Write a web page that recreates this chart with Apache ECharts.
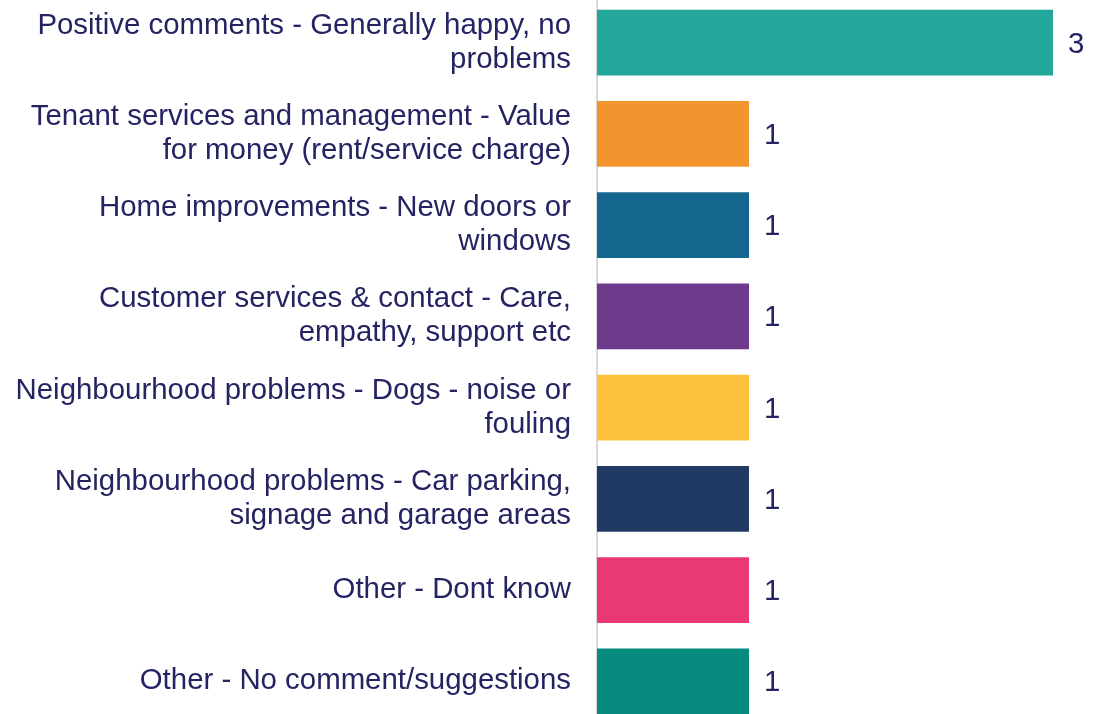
<!DOCTYPE html>
<html>
<head>
<meta charset="utf-8">
<script src="https://cdn.jsdelivr.net/npm/echarts@6/dist/echarts.min.js"></script>
<style>
  html, body { margin: 0; padding: 0; background: #fff; }
  #chart { width: 1102px; height: 714px; }
</style>
</head>
<body>
<div id="chart"></div>
<script>
// categories, top to bottom (line breaks as in the original labels)
const categories = [
  'Positive comments - Generally happy, no\nproblems',
  'Tenant services and management - Value\nfor money (rent/service charge)',
  'Home improvements - New doors or\nwindows',
  'Customer services & contact - Care,\nempathy, support etc',
  'Neighbourhood problems - Dogs - noise or\nfouling',
  'Neighbourhood problems - Car parking,\nsignage and garage areas',
  'Other - Dont know',
  'Other - No comment/suggestions'
]
const counts = [3, 1, 1, 1, 1, 1, 1, 1]
const barColors = ['#22a79a', '#f3952f', '#15668e', '#6e3a8c', '#fdc23b', '#213a63', '#e93873', '#068a7e']

const textColor = '#252463'
const chart = echarts.init(document.getElementById('chart'))

chart.setOption({
  animation: false,
  grid: { left: 597, width: 456, top: -3, height: 730, outerBoundsMode: 'none', containLabel: false },
  xAxis: {
    type: 'value',
    min: 0,
    max: 3,
    show: false
  },
  yAxis: {
    type: 'category',
    inverse: true,
    data: categories,
    axisLine: { show: true, lineStyle: { color: '#d9d9d9', width: 2 } },
    axisTick: { show: false },
    axisLabel: {
      margin: 26,
      color: textColor,
      fontFamily: 'Liberation Sans, Arial, sans-serif',
      fontSize: 29.4,
      lineHeight: 34,
      align: 'right',
      padding: [3, 0, 0, 0]
    }
  },
  series: [{
    type: 'bar',
    barWidth: '72%',
    data: counts.map((v, i) => ({ value: v, itemStyle: { color: barColors[i] } })),
    label: {
      show: true,
      position: 'right',
      distance: 15,
      offset: [0, 2],
      color: textColor,
      fontFamily: 'Liberation Sans, Arial, sans-serif',
      fontSize: 29.4
    }
  }]
})
</script>
</body>
</html>
